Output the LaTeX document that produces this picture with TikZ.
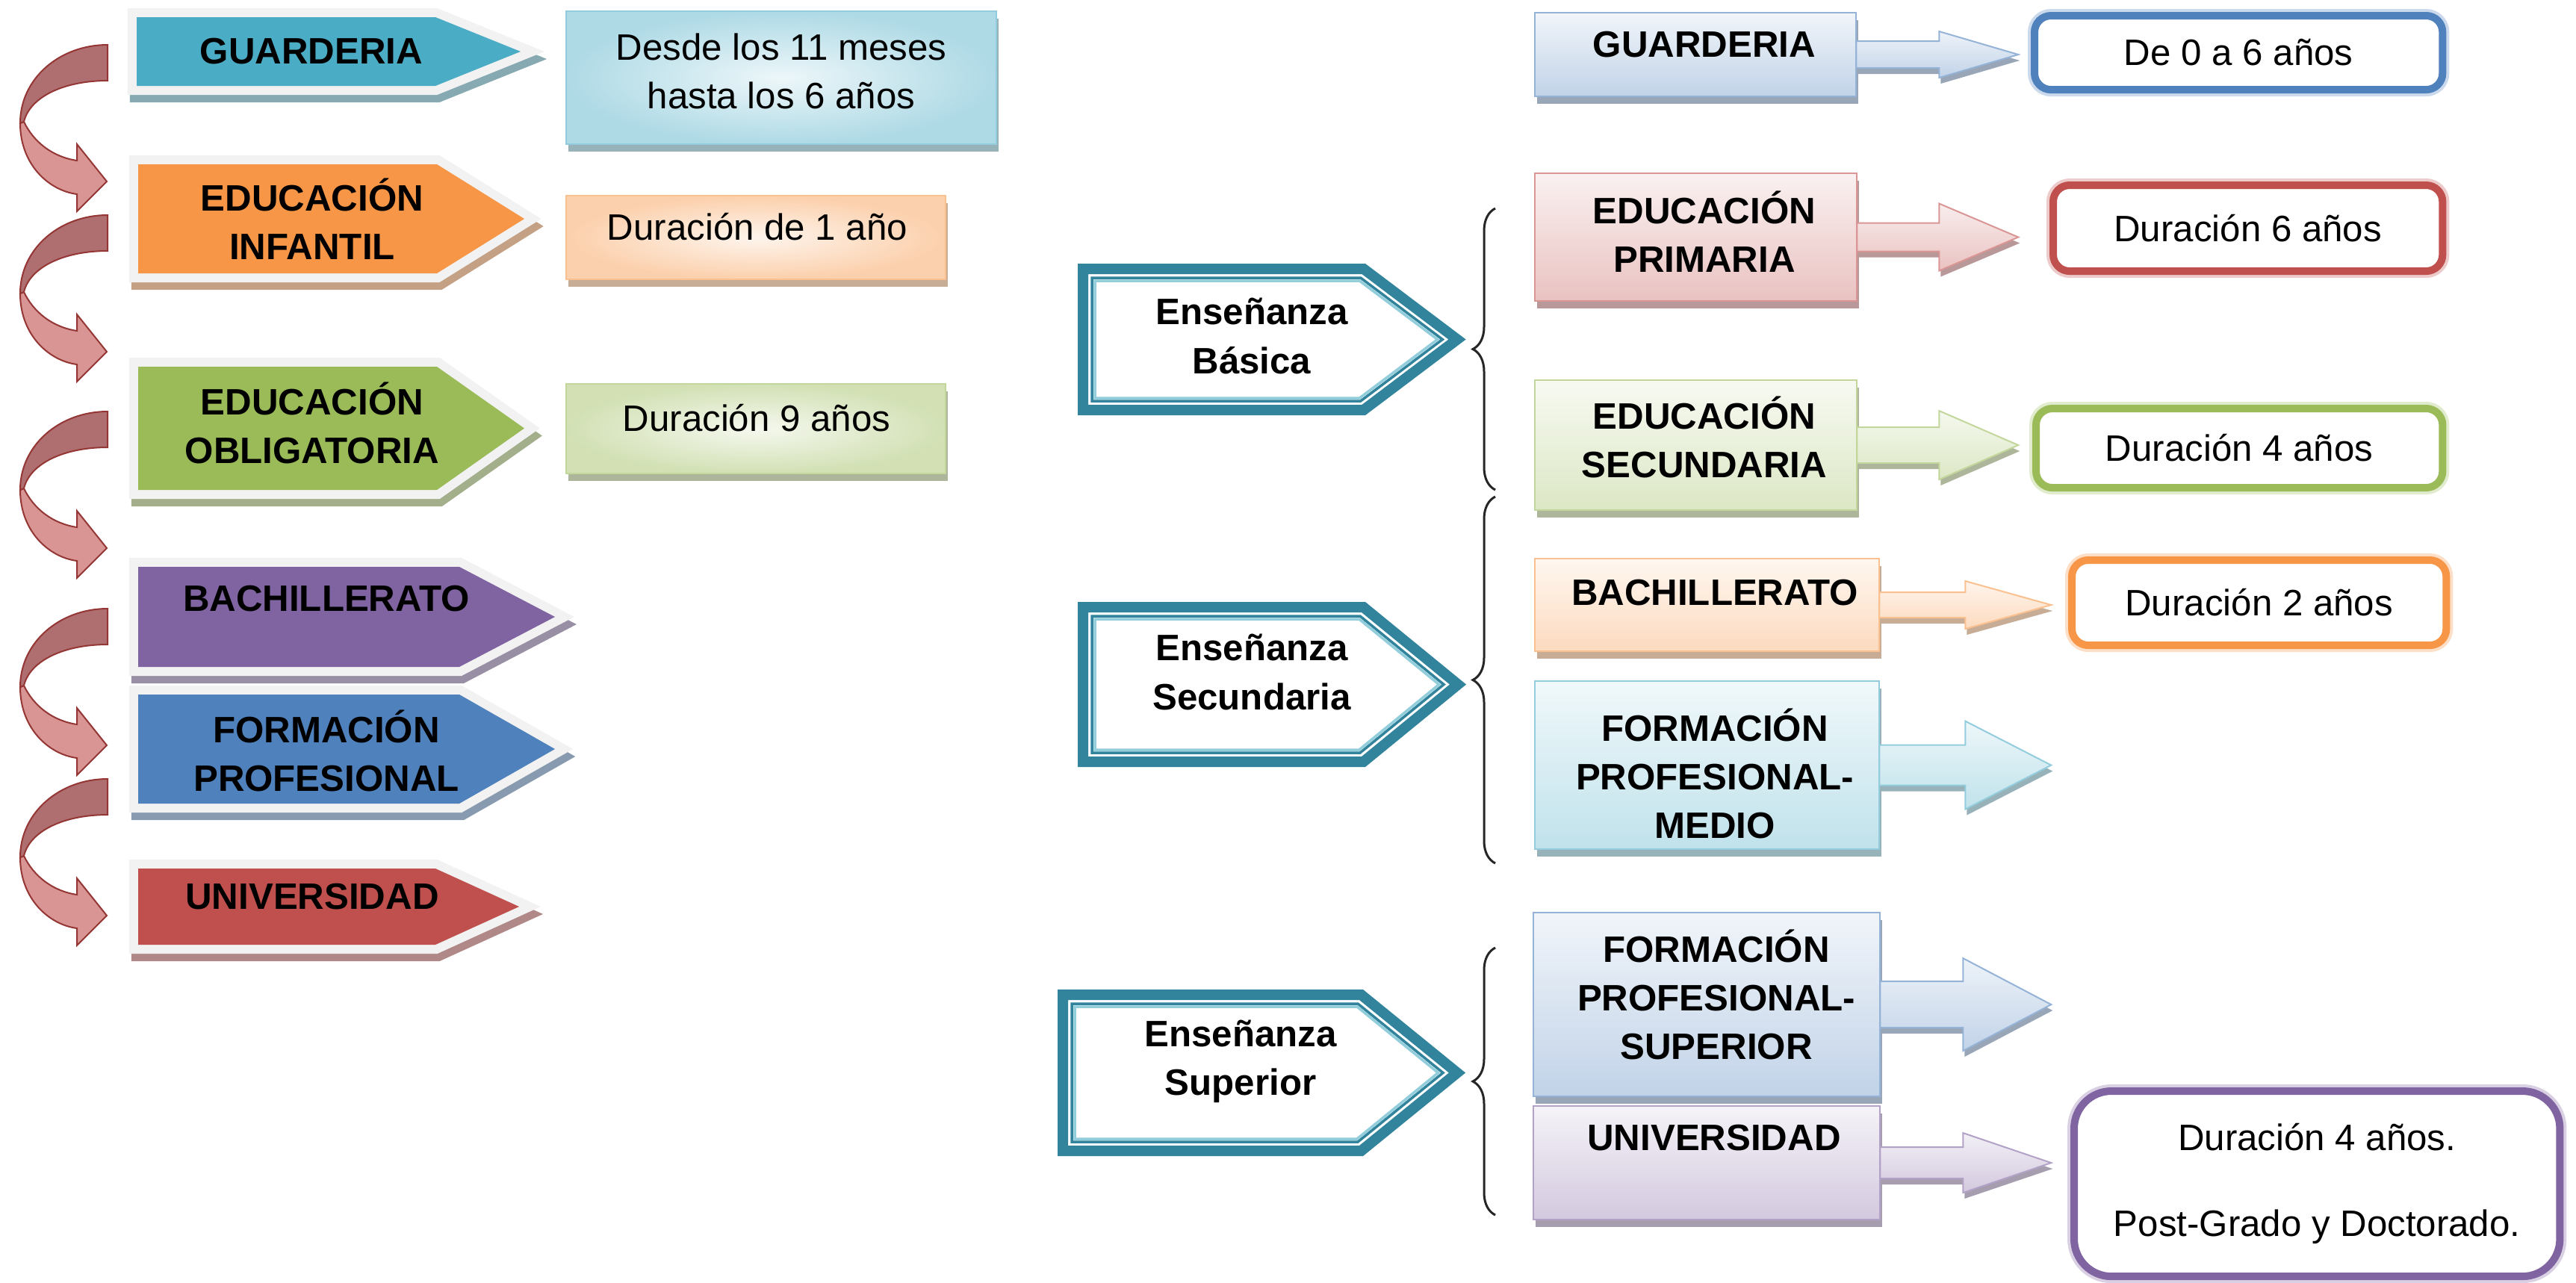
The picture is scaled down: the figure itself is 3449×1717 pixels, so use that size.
\documentclass[tikz,border=0pt]{standalone}
\usepackage{fontspec}
\setmainfont{Liberation Sans}
\usetikzlibrary{shadows,decorations.pathreplacing}

\definecolor{azul}{HTML}{4F81BD}
\definecolor{rojo}{HTML}{C0504D}
\definecolor{verde}{HTML}{9BBB59}
\definecolor{naranja}{HTML}{F79646}
\definecolor{turquesa}{HTML}{4BACC6}
\definecolor{morado}{HTML}{8064A2}
\definecolor{petroleo}{HTML}{31849B}
\definecolor{celeste}{HTML}{92CDDC}
\definecolor{grisborde}{HTML}{F2F2F2}
\definecolor{curvaosc}{HTML}{AF6F71}
\definecolor{curvacla}{HTML}{D99594}
\definecolor{curvaborde}{HTML}{943634}

\tikzset{rotulo/.style = {font=\fontsize{14pt}{18.5pt}\selectfont\bfseries,
                          align=center, inner sep=0pt},
         texto/.style = {align=center, inner sep=0pt},
         sombra/.style = {drop shadow={shadow xshift=0.03cm, shadow yshift=-0.1cm,
                                       fill=#1!40!gray!70!white, opacity=1}},
         etapa/.style = {fill=#1, line join=miter,
                         preaction={draw=#1!45!gray!80!white, fill=#1!45!gray!80!white,
                                    line width=0.24cm,
                                    transform canvas={shift={(0.03cm,-0.1cm)}}},
                         preaction={draw=grisborde, fill=grisborde, line width=0.24cm}
                        },
         duracion/.style = {rectangle, draw=#1!60, line width=0.02cm,
                            inner color=#1!10, outer color=#1!45,
                            inner sep=0pt, outer sep=0pt, anchor=north west, sombra=#1},
         nivel/.style = {rectangle, draw=#1!60, line width=0.02cm,
                         top color=#1!8, bottom color=#1!35,
                         inner sep=0pt, outer sep=0pt, anchor=north west, sombra=#1},
         flecha/.style = {draw=#1!60, line width=0.02cm,
                          top color=#1!10, bottom color=#1!35,
                          drop shadow={shadow xshift=0.02cm, shadow yshift=-0.08cm,
                                       fill=#1!40!gray!70!white, opacity=1}},
         resultado/.style = {rectangle, rounded corners=0.22cm, draw=#1, line width=0.1cm,
                             fill=white, inner sep=0pt, outer sep=0pt, anchor=north west,
                             preaction={draw=#1!30, line width=0.18cm}},
         ensenanza/.style = {draw=petroleo, line width=0.14cm, fill=white, line join=miter},
         filete/.style = {draw=#1, line width=0.035cm, line join=miter},
         llave/.style = {decorate, decoration={brace, amplitude=0.3cm},
                         draw=black!85, line width=0.03cm},
         curva osc/.style = {fill=curvaosc, draw=curvaborde, line width=0.02cm},
         curva cla/.style = {fill=curvacla, draw=curvaborde, line width=0.02cm},
         curva/.pic = {
           \path[curva cla] (27,105) .. controls (27,160) and (65,195) .. (103,200)
                 -- (103,223) -- (143,183) -- (103,133) -- (103,155)
                 .. controls (70,150) and (45,130) .. (32,103) -- cycle;
           \path[curva osc] (144,0) .. controls (80,0) and (27,45) .. (27,105)
                 -- (32,103) .. controls (40,70) and (85,48) .. (144,48) -- cycle;
         }
        }

\begin{document}
\begin{tikzpicture}[x=0.01cm, y=-0.01cm, font=\fontsize{14pt}{18.5pt}\selectfont]
  \useasboundingbox (0,0) rectangle (3449,1717);

  % flechas curvas
  \pic at (0,60) {curva};
  \pic at (0,288) {curva};
  \pic at (0,551) {curva};
  \pic at (0,815) {curva};
  \pic at (0,1043) {curva};

  % etapas de la izquierda
  \path[etapa=turquesa] (183,23) -- (583,23) -- (697,69) -- (583,115) -- (183,115) -- cycle;
  \path[etapa=naranja] (185,220) -- (585,220) -- (702,293) -- (585,366) -- (185,366) -- cycle;
  \path[etapa=verde] (185,491) -- (585,491) -- (702,573.5) -- (585,656) -- (185,656) -- cycle;
  \path[etapa=morado] (185,759) -- (615,759) -- (743,826) -- (615,893) -- (185,893) -- cycle;
  \path[etapa=azul] (185,930) -- (615,930) -- (743,1003) -- (615,1076) -- (185,1076) -- cycle;
  \path[etapa=rojo] (185,1163) -- (583,1163) -- (695,1214) -- (583,1265) -- (185,1265) -- cycle;

  \node[rotulo] (guard) at (417,69) {GUARDERIA};
  \node[rotulo] (infan) at (418,293) {EDUCACIÓN\\INFANTIL};
  \node[rotulo] (oblig) at (418,566) {EDUCACIÓN\\OBLIGATORIA};
  \node[rotulo] (bach) at (437,802) {BACHILLERATO};
  \node[rotulo] (fp) at (437,1005) {FORMACIÓN\\PROFESIONAL};
  \node[rotulo] (univ) at (418,1201) {UNIVERSIDAD};

  \node[duracion=turquesa, minimum width=5.76cm, minimum height=1.78cm] (desde) at (758,15) {};
  \node[duracion=naranja, minimum width=5.08cm, minimum height=1.12cm] (dur1) at (758,262) {};
  \node[duracion=verde, minimum width=5.08cm, minimum height=1.20cm] (dur9) at (758,514) {};
  \node[texto] (tdesde) at (1046,95) {Desde los 11 meses\\hasta los 6 años};
  \node[texto] (tdur1) at (1014,304) {Duración de 1 año};
  \node[texto] (tdur9) at (1013,560) {Duración 9 años};

  % ensenanzas
  \path[ensenanza] (1450,360) -- (1825.7,360) -- (1951,454.5) -- (1825.7,549) -- (1450,549) -- cycle;
  \path[filete=petroleo] (1462,372) -- (1821.7,372) -- (1931.3,454.5) -- (1821.7,537) -- (1462,537) -- cycle;
  \path[filete=celeste] (1466,376) -- (1820.3,376) -- (1924.7,454.5) -- (1820.3,533) -- (1466,533) -- cycle;

  \path[ensenanza] (1450,813) -- (1825.5,813) -- (1952,916.5) -- (1825.5,1020) -- (1450,1020) -- cycle;
  \path[filete=petroleo] (1462,825) -- (1821,825) -- (1933,916.5) -- (1821,1008) -- (1462,1008) -- cycle;
  \path[filete=celeste] (1466,829) -- (1819.8,829) -- (1926.7,916.5) -- (1819.8,1004) -- (1466,1004) -- cycle;

  \path[ensenanza] (1423,1332) -- (1822.5,1332) -- (1951,1436.5) -- (1822.5,1541) -- (1423,1541) -- cycle;
  \path[filete=petroleo] (1435,1344) -- (1818,1344) -- (1932,1436.5) -- (1818,1529) -- (1435,1529) -- cycle;
  \path[filete=celeste] (1439,1348) -- (1817,1348) -- (1925.5,1436.5) -- (1817,1525) -- (1439,1525) -- cycle;

  \node[rotulo] (basica) at (1676,450) {Enseñanza\\Básica};
  \node[rotulo] (secund) at (1676,900) {Enseñanza\\Secundaria};
  \node[rotulo] (superior) at (1661,1421) {Enseñanza\\Superior};

  % llaves
  \coordinate (ll1a) at (2002,656);
  \coordinate (ll1b) at (2002,279);
  \coordinate (ll2a) at (2002,1156);
  \coordinate (ll2b) at (2002,665);
  \coordinate (ll3a) at (2002,1627);
  \coordinate (ll3b) at (2002,1269);
  \draw[llave] (ll1a) -- (ll1b);
  \draw[llave] (ll2a) -- (ll2b);
  \draw[llave] (ll3a) -- (ll3b);

  % niveles de la derecha
  \node[nivel=azul, minimum width=4.30cm, minimum height=1.12cm] (rguard) at (2055,17) {};
  \node[nivel=rojo, minimum width=4.31cm, minimum height=1.71cm] (rprim) at (2055,232) {};
  \node[nivel=verde, minimum width=4.31cm, minimum height=1.74cm] (rsec) at (2055,509) {};
  \node[nivel=naranja, minimum width=4.61cm, minimum height=1.24cm] (rbach) at (2055,748) {};
  \node[nivel=turquesa, minimum width=4.61cm, minimum height=2.25cm] (rfpm) at (2055,912) {};
  \node[nivel=azul, minimum width=4.64cm, minimum height=2.46cm] (rfps) at (2053,1222) {};
  \node[nivel=morado, minimum width=4.64cm, minimum height=1.52cm] (runiv) at (2053,1481) {};

  \node[rotulo] (trguard) at (2282,60) {GUARDERIA};
  \node[rotulo] (trprim) at (2282,310) {EDUCACIÓN\\PRIMARIA};
  \node[rotulo] (trsec) at (2282,585) {EDUCACIÓN\\SECUNDARIA};
  \node[rotulo] (trbach) at (2296,794) {BACHILLERATO};
  \node[rotulo] (trfpm) at (2296,1036) {FORMACIÓN\\PROFESIONAL-\\MEDIO};
  \node[rotulo] (trfps) at (2298,1332) {FORMACIÓN\\PROFESIONAL-\\SUPERIOR};
  \node[rotulo] (truniv) at (2295,1524) {UNIVERSIDAD};

  % flechas de bloque
  \path[flecha=azul] (rguard.east) ++(0,-18) -- ++(111,0) -- ++(0,-13) -- ++(106,31)
        -- ++(-106,31) -- ++(0,-13) -- ++(-111,0) -- cycle;
  \path[flecha=rojo] (rprim.east) ++(0,-19) -- ++(110,0) -- ++(0,-26) -- ++(106,45)
        -- ++(-106,45) -- ++(0,-26) -- ++(-110,0) -- cycle;
  \path[flecha=verde] (rsec.east) ++(0,-24) -- ++(110,0) -- ++(0,-22) -- ++(106,46)
        -- ++(-106,46) -- ++(0,-22) -- ++(-110,0) -- cycle;
  \path[flecha=naranja] (rbach.east) ++(0,-17) -- ++(115,0) -- ++(0,-15) -- ++(115,32)
        -- ++(-115,32) -- ++(0,-15) -- ++(-115,0) -- cycle;
  \path[flecha=turquesa] (rfpm.east) ++(0,-27) -- ++(115,0) -- ++(0,-32) -- ++(115,59)
        -- ++(-115,59) -- ++(0,-32) -- ++(-115,0) -- cycle;
  \path[flecha=azul] (rfps.east) ++(0,-31) -- ++(111,0) -- ++(0,-31) -- ++(118,62)
        -- ++(-118,62) -- ++(0,-31) -- ++(-111,0) -- cycle;
  \path[flecha=morado] (runiv.east) ++(0,-21) -- ++(111,0) -- ++(0,-19) -- ++(118,40)
        -- ++(-118,40) -- ++(0,-19) -- ++(-111,0) -- cycle;

  % duraciones de la derecha
  \node[resultado=azul, minimum width=5.46cm, minimum height=0.99cm] (dguard) at (2724,21) {De 0 a 6 años};
  \node[resultado=rojo, minimum width=5.21cm, minimum height=1.15cm] (dprim) at (2749,248) {Duración 6 años};
  \node[resultado=verde, minimum width=5.44cm, minimum height=1.06cm] (dsec) at (2726,547) {Duración 4 años};
  \node[resultado=naranja, minimum width=5.01cm, minimum height=1.14cm] (dbach) at (2774,750) {Duración 2 años};
  \node[resultado=morado, rounded corners=0.5cm, align=center, minimum width=6.50cm,
        minimum height=2.48cm] (duniv) at (2777,1461) {Duración 4 años.\\[14pt]Post-Grado y Doctorado.};
\end{tikzpicture}
\end{document}
